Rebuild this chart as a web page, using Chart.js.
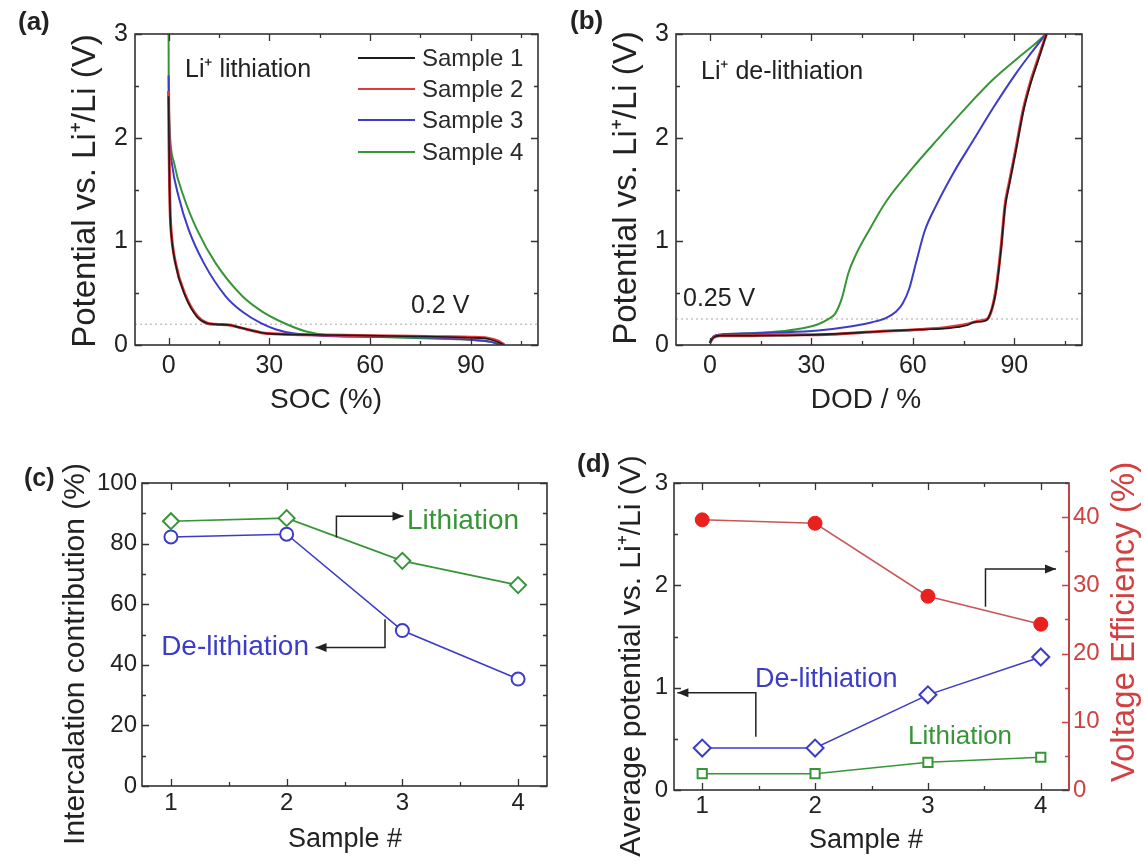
<!DOCTYPE html>
<html>
<head>
<meta charset="utf-8">
<script src="https://cdn.jsdelivr.net/npm/chart.js@4"></script>
<style>
  body { margin: 0; background: #fff; width: 1144px; height: 862px; position: relative; overflow: hidden; }
  canvas { position: absolute; }
</style>
</head>
<body>
<canvas id="ca" width="570" height="430" style="left:0;top:0"></canvas>
<canvas id="cb" width="574" height="430" style="left:570px;top:0"></canvas>
<canvas id="cc" width="570" height="422" style="left:0;top:440px"></canvas>
<canvas id="cd" width="574" height="422" style="left:570px;top:440px"></canvas>
<script>
// ---- data ----
const sampleNames = ['Sample 1', 'Sample 2', 'Sample 3', 'Sample 4'];

// (a) Li+ lithiation: SOC (%) vs potential (V)
const lithSoc12 = [0, 0.1, 0.3, 0.5, 0.7, 2, 5, 8.5, 11.5, 14, 18.5, 21, 23.5, 29.5, 39.5, 60, 80, 90, 95, 98, 100];
const lithV1 = [2.4, 2.0, 1.5, 1.24, 1.11, 0.79, 0.47, 0.27, 0.21, 0.2, 0.19, 0.17, 0.15, 0.11, 0.1, 0.09, 0.08, 0.07, 0.06, 0.03, 0];
const lithV2 = [2.45, 2.02, 1.52, 1.25, 1.12, 0.8, 0.48, 0.28, 0.21, 0.2, 0.19, 0.17, 0.15, 0.11, 0.1, 0.09, 0.08, 0.075, 0.065, 0.04, 0];
const lithSoc3 = [0, 0.2, 1, 3, 6, 10.5, 17, 22, 27.5, 32, 37.5, 45, 60, 80, 90, 96, 99];
const lithV3 = [2.6, 2.1, 1.75, 1.43, 1.11, 0.79, 0.47, 0.32, 0.21, 0.15, 0.11, 0.09, 0.08, 0.07, 0.05, 0.03, 0];
const lithSoc4 = [0, 0.05, 0.3, 1.7, 4.5, 8.5, 14, 22, 28, 34.5, 41, 48.5, 60, 80, 90, 96, 99];
const lithV4 = [3.0, 2.5, 2.1, 1.75, 1.43, 1.11, 0.79, 0.47, 0.32, 0.21, 0.13, 0.09, 0.08, 0.06, 0.05, 0.03, 0];
const lithRefV = 0.2;

// (b) Li+ de-lithiation: DOD (%) vs potential (V)
const delithDod12 = [0, 1, 3, 10, 20, 32, 50, 62, 70, 76, 78, 81, 82.3, 84.5, 86, 87.3, 88.4, 90.5, 92.7, 94.8, 97, 99.5];
const delithV1 = [0.02, 0.07, 0.09, 0.09, 0.09, 0.1, 0.13, 0.15, 0.16, 0.19, 0.22, 0.23, 0.26, 0.5, 0.9, 1.34, 1.53, 1.88, 2.26, 2.52, 2.74, 3.0];
const delithV2 = [0.02, 0.07, 0.09, 0.09, 0.1, 0.1, 0.13, 0.15, 0.17, 0.2, 0.22, 0.24, 0.26, 0.52, 0.92, 1.36, 1.55, 1.9, 2.28, 2.54, 2.76, 3.0];
const delithDod3 = [0, 1, 3, 10, 20, 32, 42, 48, 52, 55, 57, 59, 61, 63.5, 66.8, 72, 77.6, 84, 90.5, 94.8, 99.3];
const delithV3 = [0.02, 0.08, 0.1, 0.11, 0.12, 0.14, 0.18, 0.22, 0.26, 0.32, 0.4, 0.55, 0.8, 1.1, 1.34, 1.66, 1.96, 2.3, 2.62, 2.81, 3.0];
const delithDod4 = [0, 1, 3, 10, 20, 27, 32, 35, 37, 39, 41, 43, 47.3, 52, 60, 67.5, 76, 84, 91.5, 96, 99.3];
const delithV4 = [0.02, 0.08, 0.1, 0.11, 0.13, 0.16, 0.2, 0.25, 0.3, 0.45, 0.7, 0.86, 1.12, 1.38, 1.71, 1.99, 2.3, 2.57, 2.78, 2.9, 3.0];
const delithRefV = 0.25;

// (c) intercalation contribution (%)
const sampleNo = [1, 2, 3, 4];
const intercLith = [87.4, 88.4, 74.3, 66.3];
const intercDelith = [82.2, 83.1, 51.3, 35.3];

// (d) average potential (V) and voltage efficiency (%)
const avgVDelith = [0.41, 0.41, 0.93, 1.30];
const avgVLith = [0.16, 0.16, 0.27, 0.32];
const voltEff = [39.6, 39.1, 28.4, 24.3];

// ---- helpers ----
const FONT = '"Liberation Sans", Arial, Helvetica, sans-serif';
Chart.defaults.font.family = FONT;
Chart.defaults.color = '#222';

const pts = (xs, ys) => xs.map((x, i) => ({x: x, y: ys[i]}));
const range = (a, b, s) => { const r = []; for (let v = a; v <= b + 1e-9; v += s) r.push(+v.toFixed(6)); return r; };

const GREEN = '#369636', BLUE = '#3c3cc8', RED = '#e0393b', DARK = '#1b1b1b', AXRED = '#d24040';

function axis(min, max, tickVals, size, fontSize, pad, extra) {
  return Object.assign({
    type: 'linear', min: min, max: max,
    grid: {display: false, drawTicks: false}, border: {display: false},
    afterBuildTicks(s) { s.ticks = tickVals.map(v => ({value: v})); },
    ticks: {font: {size: fontSize}, color: '#222', padding: pad, maxRotation: 0, autoSkip: false},
    afterFit(s) { if (s.isHorizontal()) s.height = size; else s.width = size; }
  }, extra || {});
}

function curve(label, data, color, width) {
  return {label: label, data: data, borderColor: color, borderWidth: width, pointRadius: 0,
          cubicInterpolationMode: 'monotone', fill: false};
}

function refLine(v, xmin, xmax) {
  return {label: 'ref', data: [{x: xmin, y: v}, {x: xmax, y: v}], borderColor: '#c4c4c4',
          borderDash: [2, 3], borderWidth: 1.5, pointRadius: 0, fill: false};
}

const decor = {
  id: 'decor',
  afterDatasetsDraw(chart, args, o) {
    const {ctx, chartArea: a} = chart;
    ctx.save();
    (o.ticks || []).forEach(t => {
      const s = chart.scales[t.scale];
      ctx.strokeStyle = t.color || '#333';
      ctx.lineWidth = 1.3;
      ctx.beginPath();
      t.sides.forEach(side => {
        [[t.major, 7], [t.minor, 4]].forEach(([vals, len]) => {
          vals.forEach(v => {
            const p = Math.round(s.getPixelForValue(v)) + 0.5;
            if (side === 'bottom') { ctx.moveTo(p, a.bottom); ctx.lineTo(p, a.bottom - len); }
            if (side === 'top') { ctx.moveTo(p, a.top); ctx.lineTo(p, a.top + len); }
            if (side === 'left') { ctx.moveTo(a.left, p); ctx.lineTo(a.left + len, p); }
            if (side === 'right') { ctx.moveTo(a.right, p); ctx.lineTo(a.right - len, p); }
          });
        });
      });
      ctx.stroke();
    });
    ctx.strokeStyle = '#333';
    ctx.lineWidth = 1.6;
    ctx.strokeRect(a.left, a.top, a.right - a.left, a.bottom - a.top);
    if (o.rightColor) {
      ctx.strokeStyle = o.rightColor;
      ctx.beginPath(); ctx.moveTo(a.right, a.top); ctx.lineTo(a.right, a.bottom); ctx.stroke();
    }
    ctx.restore();
  },
  afterDraw(chart, args, o) {
    const ctx = chart.ctx;
    ctx.save();
    // arrows, in data coordinates
    (o.arrows || []).forEach(ar => {
      const xs = chart.scales.x, ys = chart.scales[ar.y || 'y'];
      const p = ar.pts.map(q => [xs.getPixelForValue(q[0]), ys.getPixelForValue(q[1])]);
      ctx.strokeStyle = '#222'; ctx.fillStyle = '#222'; ctx.lineWidth = 1.5;
      ctx.beginPath();
      p.forEach((q, i) => i ? ctx.lineTo(q[0], q[1]) : ctx.moveTo(q[0], q[1]));
      ctx.stroke();
      const [x1, y1] = p[p.length - 2], [x2, y2] = p[p.length - 1];
      const ang = Math.atan2(y2 - y1, x2 - x1), L = 11, W = 4.5;
      ctx.beginPath();
      ctx.moveTo(x2, y2);
      ctx.lineTo(x2 - L * Math.cos(ang) + W * Math.sin(ang), y2 - L * Math.sin(ang) - W * Math.cos(ang));
      ctx.lineTo(x2 - L * Math.cos(ang) - W * Math.sin(ang), y2 - L * Math.sin(ang) + W * Math.cos(ang));
      ctx.closePath(); ctx.fill();
    });
    // legend
    if (o.legend) {
      const lg = o.legend;
      lg.rows.forEach((y, i) => {
        const ds = chart.data.datasets[i];
        ctx.strokeStyle = ds.borderColor; ctx.lineWidth = 2;
        ctx.beginPath(); ctx.moveTo(lg.x1, y); ctx.lineTo(lg.x2, y); ctx.stroke();
        ctx.fillStyle = '#2a2a2a'; ctx.font = lg.size + 'px ' + FONT;
        ctx.textAlign = 'left'; ctx.textBaseline = 'middle';
        ctx.fillText(ds.label, lg.tx, y + 1);
      });
    }
    // free texts, in canvas pixels
    (o.texts || []).forEach(t => {
      const [text, x, y, size, opt] = t;
      const op = opt || {};
      ctx.save();
      ctx.translate(x, y);
      if (op.rot) ctx.rotate(-Math.PI / 2);
      ctx.font = (op.bold ? 'bold ' : '') + size + 'px ' + FONT;
      ctx.fillStyle = op.color || '#222';
      ctx.textAlign = op.align || (op.rot ? 'center' : 'left');
      ctx.textBaseline = 'middle';
      ctx.fillText(text, 0, 0);
      ctx.restore();
    });
    ctx.restore();
  }
};
Chart.register(decor);

const common = {
  responsive: false, animation: false, events: [],
  plugins: {legend: {display: false}, tooltip: {enabled: false}}
};

function opts(layoutPad, scales, decorOpts) {
  return Object.assign({}, common, {
    layout: {padding: layoutPad},
    scales: scales,
    plugins: Object.assign({}, common.plugins, {decor: decorOpts})
  });
}

// ---- (a) ----
new Chart(document.getElementById('ca'), {
  type: 'line',
  data: {datasets: [
    curve(sampleNames[0], pts(lithSoc12, lithV1), DARK, 1.6),
    curve(sampleNames[1], pts(lithSoc12, lithV2), RED, 3),
    curve(sampleNames[2], pts(lithSoc3, lithV3), BLUE, 2),
    curve(sampleNames[3], pts(lithSoc4, lithV4), GREEN, 2),
    refLine(lithRefV, -10, 110)
  ]},
  options: opts({left: 0, top: 34, right: 32, bottom: 0}, {
    x: axis(-10, 110, [0, 30, 60, 90], 85, 25, 6),
    y: axis(0, 3, [0, 1, 2, 3], 135, 25, 7)
  }, {
    ticks: [
      {scale: 'x', major: [0, 30, 60, 90], minor: [15, 45, 75, 105], sides: ['bottom', 'top']},
      {scale: 'y', major: [0, 1, 2, 3], minor: [0.5, 1.5, 2.5], sides: ['left', 'right']}
    ],
    legend: {x1: 358, x2: 415, tx: 422, rows: [58, 89, 120, 152], size: 24},
    texts: [
      ['(a)', 18, 23, 26, {bold: true}],
      ['Li\u207A lithiation', 185, 70, 25],
      ['0.2 V', 411, 306, 25],
      ['SOC (%)', 326, 400, 28, {align: 'center'}],
      ['Potential vs. Li\u207A/Li (V)', 86, 191, 33, {rot: true}]
    ]
  })
});

// ---- (b) ----
new Chart(document.getElementById('cb'), {
  type: 'line',
  data: {datasets: [
    curve(sampleNames[0], pts(delithDod12, delithV1), DARK, 1.6),
    curve(sampleNames[1], pts(delithDod12, delithV2), RED, 3),
    curve(sampleNames[2], pts(delithDod3, delithV3), BLUE, 2),
    curve(sampleNames[3], pts(delithDod4, delithV4), GREEN, 2),
    refLine(delithRefV, -10, 110)
  ]},
  options: opts({left: 0, top: 34, right: 62, bottom: 0}, {
    x: axis(-10, 110, [0, 30, 60, 90], 85, 25, 6),
    y: axis(0, 3, [0, 1, 2, 3], 106, 25, 7)
  }, {
    ticks: [
      {scale: 'x', major: [0, 30, 60, 90], minor: [15, 45, 75, 105], sides: ['bottom', 'top']},
      {scale: 'y', major: [0, 1, 2, 3], minor: [0.5, 1.5, 2.5], sides: ['left', 'right']}
    ],
    texts: [
      ['(b)', 0, 22, 26, {bold: true}],
      ['Li\u207A de-lithiation', 131, 72, 25],
      ['0.25 V', 113, 299, 25],
      ['DOD / %', 296, 400, 28, {align: 'center'}],
      ['Potential vs. Li\u207A/Li (V)', 57, 188, 33, {rot: true}]
    ]
  })
});

// ---- (c) ----
new Chart(document.getElementById('cc'), {
  type: 'line',
  data: {datasets: [
    {label: 'Lithiation', data: pts(sampleNo, intercLith), borderColor: GREEN, borderWidth: 1.6,
     pointStyle: 'rectRot', pointRadius: 8, pointBorderWidth: 2, pointBackgroundColor: '#fff', tension: 0},
    {label: 'De-lithiation', data: pts(sampleNo, intercDelith), borderColor: BLUE, borderWidth: 1.6,
     pointStyle: 'circle', pointRadius: 6.5, pointBorderWidth: 2, pointBackgroundColor: '#fff', tension: 0}
  ]},
  options: opts({left: 0, top: 43, right: 23, bottom: 0}, {
    x: axis(0.75, 4.25, [1, 2, 3, 4], 76, 24, 3),
    y: axis(0, 100, [0, 20, 40, 60, 80, 100], 142, 24, 5)
  }, {
    ticks: [
      {scale: 'x', major: [1, 2, 3, 4], minor: [1.5, 2.5, 3.5], sides: ['bottom', 'top']},
      {scale: 'y', major: range(0, 100, 20), minor: range(10, 90, 20), sides: ['left', 'right']}
    ],
    arrows: [
      {pts: [[2.43, 82], [2.43, 89], [3.01, 89]]},
      {pts: [[2.85, 55], [2.85, 45.7], [2.25, 45.7]]}
    ],
    texts: [
      ['(c)', 24, 39, 25, {bold: true}],
      ['Lithiation', 407, 81, 28, {color: GREEN}],
      ['De-lithiation', 309, 207, 28, {color: BLUE, align: 'right'}],
      ['Sample #', 345, 400, 27, {align: 'center'}],
      ['Intercalation contribution (%)', 76, 214, 30, {rot: true}]
    ]
  })
});

// ---- (d) ----
new Chart(document.getElementById('cd'), {
  type: 'line',
  data: {datasets: [
    {label: 'De-lithiation', data: pts(sampleNo, avgVDelith), borderColor: BLUE, borderWidth: 1.5, yAxisID: 'y',
     pointStyle: 'rectRot', pointRadius: 8.5, pointBorderWidth: 2, pointBackgroundColor: '#fff', tension: 0},
    {label: 'Lithiation', data: pts(sampleNo, avgVLith), borderColor: GREEN, borderWidth: 1.5, yAxisID: 'y',
     pointStyle: 'rect', pointRadius: 6.5, pointBorderWidth: 2, pointBackgroundColor: '#fff', tension: 0},
    {label: 'Voltage Efficiency', data: pts(sampleNo, voltEff), borderColor: '#c85656', borderWidth: 1.5, yAxisID: 'y2',
     pointStyle: 'circle', pointRadius: 7, pointBorderWidth: 1, pointBorderColor: '#e8201e', pointBackgroundColor: '#e8201e', tension: 0}
  ]},
  options: opts({left: 0, top: 43, right: 0, bottom: 0}, {
    x: axis(0.75, 4.25, [1, 2, 3, 4], 72, 24, 2),
    y: axis(0, 3, [0, 1, 2, 3], 104, 24, 6, {position: 'left'}),
    y2: axis(0, 45, [0, 10, 20, 30, 40], 75, 24, 4, {position: 'right', ticks: {font: {size: 24}, color: AXRED, padding: 4, maxRotation: 0, autoSkip: false}})
  }, {
    rightColor: AXRED,
    ticks: [
      {scale: 'x', major: [1, 2, 3, 4], minor: [1.5, 2.5, 3.5], sides: ['bottom', 'top']},
      {scale: 'y', major: [0, 1, 2, 3], minor: [0.5, 1.5, 2.5], sides: ['left']},
      {scale: 'y2', major: range(0, 40, 10), minor: range(5, 45, 10), sides: ['right'], color: AXRED}
    ],
    arrows: [
      {pts: [[1.475, 0.52], [1.475, 0.95], [0.78, 0.95]]},
      {pts: [[3.51, 1.79], [3.51, 2.16], [4.135, 2.16]]}
    ],
    texts: [
      ['(d)', 7, 25, 26, {bold: true}],
      ['De-lithiation', 185, 240, 27, {color: BLUE}],
      ['Lithiation', 338, 297, 26, {color: GREEN}],
      ['Sample #', 296, 401, 27, {align: 'center'}],
      ['Average potential vs. Li\u207A/Li (V)', 62, 216, 30, {rot: true}],
      ['Voltage Efficiency (%)', 555, 182, 33, {rot: true, color: AXRED}]
    ]
  })
});
</script>
</body>
</html>
